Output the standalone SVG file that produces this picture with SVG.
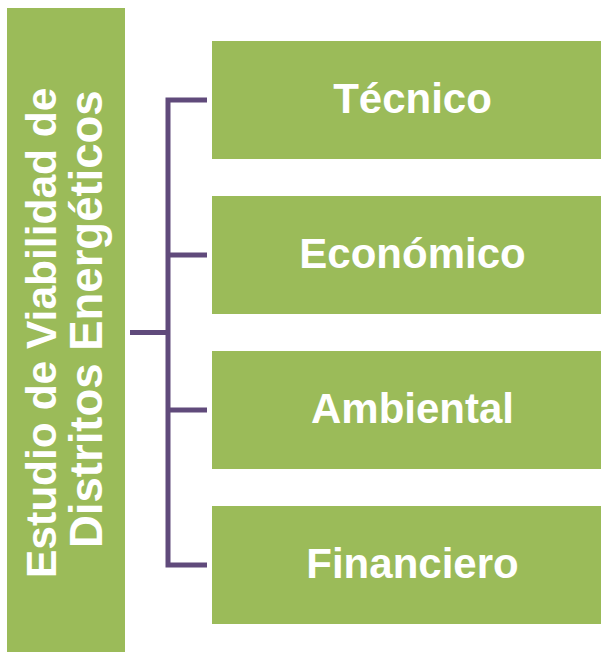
<svg xmlns="http://www.w3.org/2000/svg" width="601" height="652" viewBox="0 0 601 652">
<style>
.box{fill:#9BBB59;}
.lbl{font-family:"Liberation Sans",Arial,sans-serif;font-weight:bold;font-size:42px;fill:#FFFFFF;text-anchor:middle;}
.side{font-family:"Liberation Sans",Arial,sans-serif;font-weight:bold;fill:#FFFFFF;}
.conn{fill:none;stroke:#604A7B;stroke-width:5;}
</style>
<rect width="601" height="652" fill="#FFFFFF"/>
<g id="root">
<rect class="box" x="7" y="8" width="118" height="644"/>
<text class="side" font-size="42.5" transform="translate(56,578) rotate(-90)">Estudio de Viabilidad de</text>
<text class="side" font-size="45.5" transform="translate(101.5,548) rotate(-90)">Distritos Energéticos</text>
</g>
<g id="connectors">
<path class="conn" d="M130,332.5 H168"/>
<path class="conn" d="M207,100 H168 V565 H207"/>
<path class="conn" d="M168,255 H207"/>
<path class="conn" d="M168,410 H207"/>
</g>
<g id="tecnico">
<rect class="box" x="212" y="41" width="401" height="118"/>
<text class="lbl" x="412.5" y="113">Técnico</text>
</g>
<g id="economico">
<rect class="box" x="212" y="196" width="401" height="118"/>
<text class="lbl" x="412.5" y="268">Económico</text>
</g>
<g id="ambiental">
<rect class="box" x="212" y="351" width="401" height="118"/>
<text class="lbl" x="412.5" y="423">Ambiental</text>
</g>
<g id="financiero">
<rect class="box" x="212" y="506" width="401" height="118"/>
<text class="lbl" x="412.5" y="578">Financiero</text>
</g>
</svg>
